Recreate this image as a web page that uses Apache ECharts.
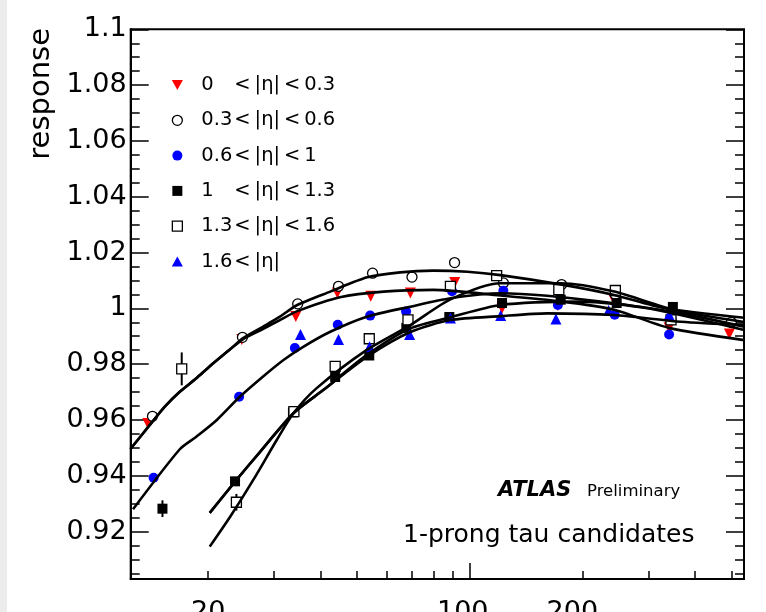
<!DOCTYPE html>
<html><head><meta charset="utf-8">
<script src="https://cdn.jsdelivr.net/npm/echarts@6/dist/echarts.min.js"></script>
<style>html,body{margin:0;padding:0;background:#fff}#c{width:766px;height:612px}</style>
</head><body><div id="c"></div><script>
// ---------- data ----------
const xTickValues = [20,30,40,50,60,70,80,90,200,300,400,500];
const xLongTicks = [100];
const xLabelValues = [20,100,200];
const yMajor = [0.92,0.94,0.96,0.98,1,1.02,1.04,1.06,1.08,1.1];
const yMinor = [0.905,0.91,0.915,0.925,0.93,0.935,0.945,0.95,0.955,0.965,0.97,0.975,0.985,0.99,0.995,1.005,1.01,1.015,1.025,1.03,1.035,1.045,1.05,1.055,1.065,1.07,1.075,1.085,1.09,1.095];

const seriesNames = ['0 < |η| < 0.3','0.3 < |η| < 0.6','0.6 < |η| < 1','1 < |η| < 1.3','1.3 < |η| < 1.6','1.6 < |η|'];
const legendLo = ['0','0.3','0.6','1','1.3','1.6'];
const legendHi = ['<\u2009|η|\u2009<\u20090.3','<\u2009|η|\u2009<\u20090.6','<\u2009|η|\u2009<\u20091','<\u2009|η|\u2009<\u20091.3','<\u2009|η|\u2009<\u20091.6','<\u2009|η|'];

// 0 < |eta| < 0.3
const eta0_pt   = [13.8, 24.6, 34.3, 44.3, 54.4, 69.4, 91.2, 122, 172, 243, 341, 494];
const eta0_resp = [0.9587, 0.9888, 0.9971, 1.0055, 1.0043, 1.0055, 1.0093, 1.0000, 1.0010, 1.0030, 0.9930, 0.9908];
const eta0_err  = [0.001, 0.001, 0.001, 0.001, 0.001, 0.001, 0.001, 0.001, 0.001, 0.001, 0.001, 0.001];
// 0.3 < |eta| < 0.6
const eta1_pt   = [14.2, 24.7, 34.7, 44.6, 55.0, 70.1, 91.1, 123, 176, 245, 345, 500];
const eta1_resp = [0.9613, 0.9896, 1.0016, 1.0079, 1.0126, 1.0112, 1.0164, 1.0091, 1.0085, 1.0050, 0.9960, 0.9950];
const eta1_err  = [0.001, 0.001, 0.001, 0.001, 0.001, 0.001, 0.001, 0.001, 0.001, 0.001, 0.001, 0.001];
// 0.6 < |eta| < 1
const eta2_pt   = [14.3, 24.2, 34.1, 44.4, 54.2, 67.6, 89.7, 123, 172, 244, 341];
const eta2_resp = [0.9393, 0.9683, 0.9858, 0.9941, 0.9974, 0.9989, 1.0061, 1.0063, 1.0012, 0.9977, 0.9906];
const eta2_err  = [0.001, 0.001, 0.001, 0.001, 0.001, 0.001, 0.001, 0.001, 0.001, 0.001, 0.001];
// 1 < |eta| < 1.3
const eta3_pt   = [15.1, 23.6, 33.7, 43.7, 53.9, 67.7, 88.2, 122, 175, 247, 349];
const eta3_resp = [0.9282, 0.9380, 0.9627, 0.9754, 0.9831, 0.9930, 0.9969, 1.0019, 1.0031, 1.0019, 1.0005];
const eta3_err  = [0.003, 0.0012, 0.001, 0.001, 0.001, 0.001, 0.001, 0.001, 0.001, 0.001, 0.001];
// 1.3 < |eta| < 1.6
const eta4_pt   = [17.0, 23.8, 33.9, 43.7, 53.9, 68.4, 88.8, 118, 173, 245, 345];
const eta4_resp = [0.9783, 0.9305, 0.9630, 0.9792, 0.9891, 0.9959, 1.0079, 1.0117, 1.0067, 1.0064, 0.9959];
const eta4_err  = [0.0059, 0.003, 0.001, 0.001, 0.001, 0.001, 0.001, 0.001, 0.0015, 0.0015, 0.0015];
// 1.6 < |eta|
const eta5_pt   = [35.3, 44.6, 54.0, 69.1, 88.8, 121, 170, 235, 341];
const eta5_resp = [0.9906, 0.9888, 0.9862, 0.9906, 0.9965, 0.9974, 0.9962, 0.9992, 0.9977];
const eta5_err  = [0.001, 0.001, 0.001, 0.001, 0.001, 0.001, 0.001, 0.001, 0.001];

// fitted curves
const fit0_pt   = [12.4, 14.2, 15.3, 16.8, 18.7, 20.6, 22.9, 24.8, 28.0, 31.1, 34.6, 45.0, 58.9, 79.9, 120.8, 175, 243, 341, 541];
const fit0_resp = [0.9496, 0.9594, 0.9647, 0.9701, 0.9752, 0.9802, 0.9853, 0.9890, 0.9926, 0.9958, 0.9990, 1.0040, 1.0060, 1.0066, 1.0046, 1.0025, 0.9995, 0.9930, 0.9886];
const fit1_pt   = [12.4, 14.2, 15.3, 16.8, 18.7, 20.6, 22.9, 24.8, 28.0, 31.1, 34.6, 42.4, 53.2, 65.2, 79.9, 98.6, 120.8, 178, 243, 330, 541];
const fit1_resp = [0.9496, 0.9594, 0.9647, 0.9701, 0.9752, 0.9802, 0.9853, 0.9893, 0.9934, 0.9970, 1.0012, 1.0060, 1.0111, 1.0129, 1.0135, 1.0131, 1.0119, 1.0084, 1.0048, 1.0001, 0.9966];
const fit2_pt   = [12.6, 16.8, 18.6, 21.1, 24.3, 28.0, 31.8, 35.9, 42.4, 53.1, 69.4, 88.8, 120.8, 161, 243, 367, 541];
const fit2_resp = [0.9280, 0.9495, 0.9540, 0.9600, 0.9683, 0.9755, 0.9815, 0.9862, 0.9916, 0.9970, 1.0006, 1.0036, 1.0054, 1.0045, 1.0018, 0.9982, 0.9934];
const fit3_pt   = [20.2, 23.6, 27.5, 33.8, 40.6, 53.1, 69.4, 88.8, 120.8, 198, 299, 541];
const fit3_resp = [0.9267, 0.9379, 0.9485, 0.9624, 0.9707, 0.9833, 0.9928, 0.9968, 1.0012, 1.0024, 1.0000, 0.9922];
const fit4_pt   = [20.2, 22.9, 26.4, 30.5, 33.8, 39.0, 53.1, 69.4, 88.8, 120.8, 175, 243.5, 351.8, 541];
const fit4_resp = [0.9146, 0.9253, 0.9385, 0.9528, 0.9624, 0.9714, 0.9851, 0.9940, 1.0032, 1.0090, 1.0090, 1.0060, 0.9994, 0.9951];
const fit5_pt   = [20.2, 23.6, 27.5, 33.8, 40.6, 53.1, 69.4, 88.8, 120.8, 161, 243, 367, 541];
const fit5_resp = [0.9267, 0.9379, 0.9485, 0.9624, 0.9707, 0.9826, 0.9915, 0.9958, 0.9972, 0.9982, 0.9976, 0.9952, 0.9940];

// ---------- build ----------
const FONT = 'DejaVu Sans';
const pts = [[eta0_pt,eta0_resp,eta0_err],[eta1_pt,eta1_resp,eta1_err],[eta2_pt,eta2_resp,eta2_err],
             [eta3_pt,eta3_resp,eta3_err],[eta4_pt,eta4_resp,eta4_err],[eta5_pt,eta5_resp,eta5_err]];
const fits = [[fit0_pt,fit0_resp],[fit1_pt,fit1_resp],[fit2_pt,fit2_resp],[fit3_pt,fit3_resp],[fit4_pt,fit4_resp],[fit5_pt,fit5_resp]];
const SQ = 'path://M0,0L10,0L10,10L0,10Z';
const styles = [
  {symbol:'path://M0,0L10,0L5,9Z', size:11, itemStyle:{color:'#ff0000', opacity:1}},
  {symbol:'circle', size:10, itemStyle:{color:'#ffffff', borderColor:'#000', borderWidth:1.3, opacity:1}},
  {symbol:'circle', size:10, itemStyle:{color:'#0000ff', opacity:1}},
  {symbol:SQ, size:10, itemStyle:{color:'#000000', opacity:1}},
  {symbol:SQ, size:10, itemStyle:{color:'#ffffff', borderColor:'#000', borderWidth:1.3, opacity:1}},
  {symbol:'path://M5,0L10,9L0,9Z', size:11, itemStyle:{color:'#0000ff', opacity:1}}
];
const errColors = ['#ff0000','#000000','#0000ff','#000000','#000000','#0000ff'];

const series = [];
pts.forEach((p, i) => {
  series.push({
    type:'custom', name:'err'+i, silent:true, z:2,
    data: p[0].map((x,k)=>[x,p[1][k],p[2][k]]),
    encode:{x:0,y:1},
    renderItem:(params, api) => {
      const x = api.value(0), y = api.value(1), e = api.value(2);
      const a = api.coord([x, y - e]), b = api.coord([x, y + e]);
      return {type:'line', shape:{x1:a[0],y1:a[1],x2:b[0],y2:b[1]}, style:{stroke:errColors[i], lineWidth:2}};
    }
  });
});
pts.forEach((p, i) => {
  series.push({
    type:'scatter', name:seriesNames[i], z:3,
    symbol:styles[i].symbol, symbolSize:styles[i].size, itemStyle:styles[i].itemStyle,
    data: p[0].map((x,k)=>[x,p[1][k]])
  });
});
fits.forEach((f, i) => {
  series.push({
    type:'line', name:'fit'+i, z:5, silent:true, showSymbol:false, symbol:'none', smooth:0.25,
    lineStyle:{color:'#000', width:2.6},
    data: f[0].map((x,k)=>[x,f[1][k]])
  });
});

const XMIN = 12.42, XMAX = 540.6, YMIN = 0.903, YMAX = 1.1;
const chart = echarts.init(document.getElementById('c'), null, {renderer:'canvas'});
chart.setOption({
  animation:false,
  backgroundColor:'#ffffff',
  textStyle:{fontFamily:FONT},
  grid:{left:130.7, right:22, top:29.3, bottom:33, containLabel:false, outerBoundsMode:'none',
        show:true, borderColor:'#000', borderWidth:2, backgroundColor:'transparent'},
  xAxis:[
    {type:'log', logBase:10, min:XMIN, max:XMAX, position:'bottom',
     axisLine:{show:true, lineStyle:{color:'#000', width:2}},
     axisTick:{show:true, inside:true, length:8, customValues:xTickValues, lineStyle:{color:'#000', width:1.5}},
     axisLabel:{show:true, customValues:xLabelValues, margin:20, fontSize:27, color:'#000', fontFamily:FONT,
       formatter:(v) => v >= 200 ? '{c|' + v + '}' : (v >= 100 ? '{b|' + v + '}' : '{a|' + v + '}'),
       rich:{a:{fontSize:27, fontFamily:FONT, color:'#000'},
             b:{fontSize:27, fontFamily:FONT, color:'#000', padding:[0,14,0,0]},
             c:{fontSize:27, fontFamily:FONT, color:'#000', padding:[0,20,0,0]}}},
     splitLine:{show:false}, minorTick:{show:false}},
    {type:'log', logBase:10, min:XMIN, max:XMAX, position:'bottom',
     axisLine:{show:false},
     axisTick:{show:true, inside:true, length:16, customValues:xLongTicks, lineStyle:{color:'#000', width:1.5}},
     axisLabel:{show:false}, splitLine:{show:false}}
  ],
  yAxis:[
    {type:'value', min:YMIN, max:YMAX, position:'left',
     axisLine:{show:true, lineStyle:{color:'#000', width:2}},
     axisTick:{show:true, inside:true, length:18, customValues:yMajor, lineStyle:{color:'#000', width:1.5}},
     axisLabel:{show:true, customValues:yMajor, margin:4, fontSize:27, color:'#000', fontFamily:FONT},
     splitLine:{show:false}},
    {type:'value', min:YMIN, max:YMAX, position:'left', axisLine:{show:false},
     axisTick:{show:true, inside:true, length:9, customValues:yMinor, lineStyle:{color:'#000', width:1.5}},
     axisLabel:{show:false}, splitLine:{show:false}},
    {type:'value', min:YMIN, max:YMAX, position:'right', axisLine:{show:false},
     axisTick:{show:true, inside:true, length:18, customValues:yMajor, lineStyle:{color:'#000', width:1.5}},
     axisLabel:{show:false}, splitLine:{show:false}},
    {type:'value', min:YMIN, max:YMAX, position:'right', axisLine:{show:false},
     axisTick:{show:true, inside:true, length:9, customValues:yMinor, lineStyle:{color:'#000', width:1.5}},
     axisLabel:{show:false}, splitLine:{show:false}}
  ],
  legend:{
    show:true, orient:'vertical', left:166.7, top:70, itemWidth:38, itemHeight:10, itemGap:15.3,
    selectedMode:false,
    data: seriesNames.map((n,i)=>({name:n, itemStyle:styles[i].itemStyle})),
    formatter:(name) => { const i = seriesNames.indexOf(name); return '{a|' + legendLo[i] + '}{b|' + legendHi[i] + '}'; },
    textStyle:{color:'#000', fontFamily:FONT, fontSize:19.5, lineHeight:20,
      rich:{a:{width:33, fontSize:19.5, fontFamily:FONT, color:'#000', lineHeight:20},
            b:{fontSize:19.5, fontFamily:FONT, color:'#000', lineHeight:20}}}
  },
  graphic:[
    {type:'rect', left:0, top:0, shape:{width:7, height:612}, style:{fill:'#ececec'}, silent:true},
    {type:'text', x:41, y:28, rotation:Math.PI/2, silent:true,
     style:{text:'response', fontSize:29, fontFamily:FONT, fill:'#000', align:'right', verticalAlign:'middle'}},
    {type:'text', x:498, y:491, silent:true,
     style:{text:'ATLAS', fontSize:21, fontFamily:FONT, fontWeight:'bold', fontStyle:'italic', fill:'#000', align:'left', verticalAlign:'middle'}},
    {type:'text', x:587, y:492, silent:true,
     style:{text:'Preliminary', fontSize:16.5, fontFamily:FONT, fill:'#000', align:'left', verticalAlign:'middle'}},
    {type:'text', x:403, y:535, silent:true,
     style:{text:'1-prong tau candidates', fontSize:25, fontFamily:FONT, fill:'#000', align:'left', verticalAlign:'middle'}}
  ],
  series: series
});
</script></body></html>
